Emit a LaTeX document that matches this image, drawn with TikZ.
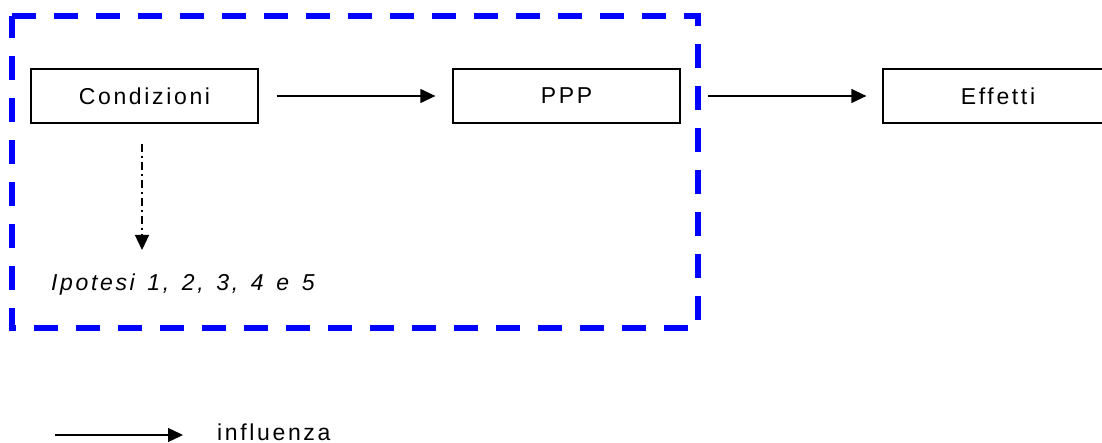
\documentclass[tikz,border=0pt]{standalone}
\usepackage{fontspec}
\setmainfont{Liberation Sans}[LetterSpace=11.5, WordSpace=1.4]
\usetikzlibrary{arrows.meta}
\begin{document}
\begin{tikzpicture}[x=1pt,y=-1pt,
  txt/.style={font=\fontsize{23}{27}\selectfont, inner sep=0pt},
  box/.style={txt, draw=black, line width=1.3pt, minimum height=54pt},
  arr/.style={line width=1.3pt, -{Triangle[length=15pt,width=14pt]}},
  dd/.style={line width=1.3pt, dash pattern=on 8pt off 4pt on 2pt off 4pt, -{Triangle[length=15pt,width=14pt]}},
  frame/.style={draw=blue, line width=6.5pt, dash pattern=on 24pt off 18pt}]
\useasboundingbox (0,0) rectangle (1102,443);
\fill[white] (0,0) rectangle (1102,443);
\draw[frame] (12,16) -- (698,16) -- (698,328) -- (12,328) -- cycle;
\node[box, minimum width=227pt] (cond) at (144.5,96) {Condizioni};
\node[box, minimum width=227pt] (ppp) at (566.5,96) {PPP};
\node[box, minimum width=230pt] (eff) at (998,96) {Effetti};
\node[txt, anchor=base west] (hyp) at (51,291) {\itshape Ipotesi 1, 2, 3, 4 e 5};
\coordinate (dtip) at (142,250);
\draw[arr, shorten <=18pt, shorten >=17pt] (cond.east) -- (ppp.west);
\draw[arr, shorten <=27pt, shorten >=16pt] (ppp.east) -- (eff.west);
\draw[dd] ([xshift=-2.5pt,yshift=-20pt]cond.south) -- (dtip);
\coordinate (l1) at (55,435);
\coordinate (l2) at (183,435);
\draw[arr] (l1) -- (l2);
\node[txt, anchor=base west] (infl) at (217,440) {influenza};
\end{tikzpicture}
\end{document}
